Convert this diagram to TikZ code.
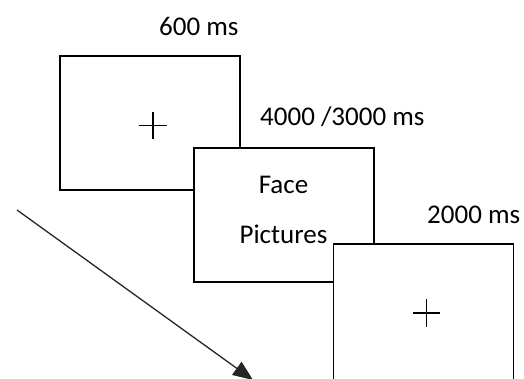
\documentclass[tikz,border=0pt]{standalone}
\usepackage{fontspec}
\setmainfont{Carlito}
\usetikzlibrary{arrows.meta}
\begin{document}
\begin{tikzpicture}[x=1pt,y=-1pt,
  screen/.style={draw=black,line width=1.6pt,fill=white,minimum width=180pt,minimum height=134pt,inner sep=0pt,outer sep=0pt},
  lbl/.style={font=\fontsize{27}{32}\selectfont,anchor=base west,inner sep=0pt},
  cross/.style={line width=1.3pt},
  timearrow/.style={draw=black!85,line width=1.3pt,-{Triangle[length=20pt,width=16pt]}}]
\useasboundingbox (0,0) rectangle (524,378);
\node[screen] (s1) at (150,123) {};
\node[screen] (s2) at (284,215) {};
\node[screen,minimum height=146pt] (s3) at (423.5,317) {};
\draw[cross] (139,125.5) -- (167,125.5) (153,112) -- (153,139);
\draw[cross] (413,313) -- (440,313) (426.5,299) -- (426.5,327);
\node[lbl] (t1) at (159,35) {600 ms};
\node[lbl] (t2) at (260,125) {4000 /3000 ms};
\node[lbl] (t3) at (427,223) {2000 ms};
\node[lbl,anchor=base] (f1) at (283.5,193) {Face};
\node[lbl,anchor=base] (f2) at (283.5,243) {Pictures};
\coordinate (a0) at (17,210);
\coordinate (a1) at (253,380);
\draw[timearrow] (a0) -- (a1);
\end{tikzpicture}
\end{document}
